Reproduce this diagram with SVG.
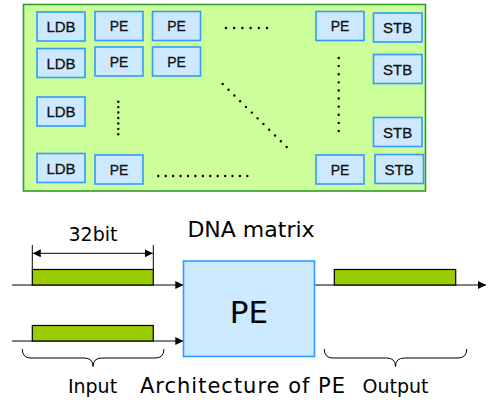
<svg xmlns="http://www.w3.org/2000/svg" width="493" height="403" viewBox="0 0 493 403">
<style>
.blk{fill:#cce9ff;stroke:#3399ff;stroke-width:1.6}
.t{font-family:"Liberation Sans",Arial,sans-serif;font-size:14px;fill:#111;stroke:#111;stroke-width:0.3;text-anchor:middle}
.b{font-size:15px}
.dots{stroke:#000;stroke-width:2.4;stroke-linecap:round;fill:none}
.bar{fill:#99cc00;stroke:#000;stroke-width:1.2}
.ln{stroke:#000;stroke-width:1;fill:none}
.lbl{font-family:"DejaVu Sans","Liberation Sans",sans-serif;fill:#000;text-anchor:middle}
</style>
<defs>
<marker id="ah" viewBox="0 0 10 10" refX="10" refY="5" markerWidth="8" markerHeight="8" markerUnits="userSpaceOnUse" orient="auto-start-reverse">
<path d="M0,0 L10,5 L0,10 z" fill="#000"/>
</marker>
</defs>
<rect x="23.5" y="4.5" width="402" height="186.5" fill="#ccff99" stroke="#339933" stroke-width="1.6"/>
<g id="ldb1"><rect class="blk" x="37" y="12" width="48" height="29"/><text class="t b" x="61" y="32">LDB</text></g>
<g id="ldb2"><rect class="blk" x="37" y="48.5" width="48" height="29"/><text class="t b" x="61" y="68.5">LDB</text></g>
<g id="ldb3"><rect class="blk" x="37" y="97" width="48" height="29"/><text class="t b" x="61" y="117">LDB</text></g>
<g id="ldb4"><rect class="blk" x="37" y="153.5" width="48" height="29"/><text class="t b" x="61" y="173.5">LDB</text></g>
<g id="pe11"><rect class="blk" x="95" y="11.5" width="48" height="29"/><text class="t" x="119" y="31">PE</text></g>
<g id="pe12"><rect class="blk" x="152.5" y="11.5" width="48" height="29"/><text class="t" x="176.5" y="31">PE</text></g>
<g id="pe21"><rect class="blk" x="95" y="47" width="48" height="29"/><text class="t" x="119" y="67">PE</text></g>
<g id="pe22"><rect class="blk" x="152.5" y="47" width="48" height="29"/><text class="t" x="176.5" y="67">PE</text></g>
<g id="pe41"><rect class="blk" x="95" y="155" width="48" height="29"/><text class="t" x="119" y="175">PE</text></g>
<g id="pe1n"><rect class="blk" x="316" y="11.5" width="48" height="29"/><text class="t" x="340" y="31">PE</text></g>
<g id="penn"><rect class="blk" x="316" y="155" width="48" height="29"/><text class="t" x="340" y="175">PE</text></g>
<g id="stb1"><rect class="blk" x="373.5" y="13" width="48.5" height="29"/><text class="t b" x="397.7" y="33">STB</text></g>
<g id="stb2"><rect class="blk" x="373.5" y="54.5" width="48.5" height="29"/><text class="t b" x="397.7" y="74.5">STB</text></g>
<g id="stb3"><rect class="blk" x="373.5" y="117.5" width="48.5" height="29"/><text class="t b" x="397.7" y="137.5">STB</text></g>
<g id="stb4"><rect class="blk" x="375" y="154.5" width="48.5" height="29"/><text class="t b" x="399.2" y="174.5">STB</text></g>
<g id="dots">
<line class="dots" x1="226" y1="28" x2="267.5" y2="28" stroke-dasharray="0 8.2"/>
<line class="dots" x1="118.3" y1="101.7" x2="118.3" y2="135" stroke-dasharray="0 5.43"/>
<line class="dots" x1="222.7" y1="84" x2="287" y2="147.3" stroke-dasharray="0 8.16"/>
<line class="dots" x1="338.7" y1="58" x2="338.7" y2="131.5" stroke-dasharray="0 8.11"/>
<line class="dots" x1="158.3" y1="176" x2="247.8" y2="176" stroke-dasharray="0 7.42"/>
</g>
<text class="lbl" x="251" y="236.5" font-size="22">DNA matrix</text>
<text class="lbl" x="93" y="240.5" font-size="19">32bit</text>
<g id="connectors">
<line class="ln" x1="32.3" y1="245" x2="32.3" y2="269"/>
<line class="ln" x1="153.3" y1="245" x2="153.3" y2="269"/>
<line class="ln" x1="32.8" y1="253.3" x2="152.8" y2="253.3" marker-start="url(#ah)" marker-end="url(#ah)"/>
<line class="ln" x1="12" y1="285" x2="183.3" y2="285" marker-end="url(#ah)"/>
<line class="ln" x1="12" y1="341" x2="183.3" y2="341" marker-end="url(#ah)"/>
<line class="ln" x1="314.7" y1="285" x2="486" y2="285" marker-end="url(#ah)"/>
<path class="ln" d="M22.3,349 Q22.3,358 31,358 L84,358 Q93,358 93,366.5 Q93,358 102,358 L155,358 Q164,358 164,349" stroke="#333"/>
<path class="ln" d="M324.3,349 Q324.3,358 333,358 L386.5,358 Q395.5,358 395.5,366.5 Q395.5,358 404.5,358 L458,358 Q466.7,358 466.7,349" stroke="#333"/>
</g>
<rect class="bar" x="32.3" y="269.5" width="121" height="15.5"/>
<rect class="bar" x="32.3" y="325.5" width="121" height="15.5"/>
<rect class="bar" x="334.3" y="269.5" width="121.4" height="15.5"/>
<g id="pe_big"><rect x="183.5" y="261" width="131" height="95.5" fill="#cce9ff" stroke="#3399ff" stroke-width="1.6"/><text class="lbl" x="249" y="322.5" font-size="31">PE</text></g>
<text class="lbl" x="92.5" y="393" font-size="19">Input</text>
<text class="lbl" x="243" y="393" font-size="21" letter-spacing="1">Architecture of PE</text>
<text class="lbl" x="395.5" y="393" font-size="19">Output</text>
</svg>
